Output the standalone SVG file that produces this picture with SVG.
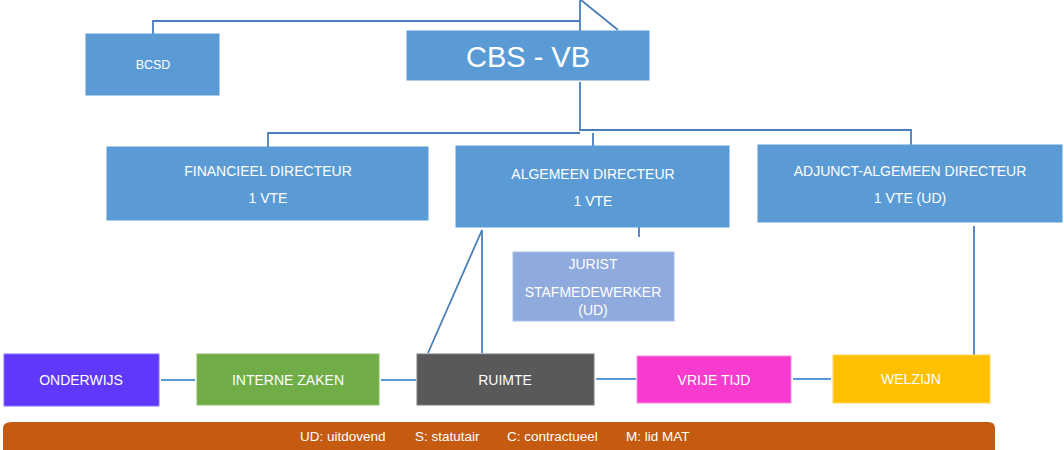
<svg xmlns="http://www.w3.org/2000/svg" width="1064" height="450" viewBox="0 0 1064 450">
<style>
.b{fill:#5B9BD5;stroke:#5B9BD5;stroke-width:1}
.t{fill:#FFFFFF;font-family:"Liberation Sans",Arial,sans-serif;font-size:14px;text-anchor:middle}
.l{fill:#FFFFFF;font-family:"Liberation Sans",Arial,sans-serif;font-size:13.5px}
.c{fill:none;stroke:#4A7EBB;stroke-width:1.8}
.h{fill:none;stroke:#5B9BD5;stroke-width:2.2}
</style>
<rect width="1064" height="450" fill="#FFFFFF"/>
<g id="connectors">
<polyline class="c" points="153,34 153,21 580,21"/>
<line class="c" x1="580" y1="0" x2="580" y2="31"/>
<line class="c" x1="581" y1="0" x2="618" y2="30"/>
<polyline class="c" points="580,82 580,130 911,130 911,146"/>
<polyline class="c" points="580,133 268,133 268,147"/>
<line class="c" x1="593" y1="133" x2="593" y2="146"/>
<line class="c" x1="639" y1="210" x2="639" y2="237"/>
<line class="c" x1="482" y1="230" x2="482" y2="353"/>
<line class="c" x1="482" y1="230" x2="428" y2="353"/>
<line class="c" x1="974" y1="226" x2="974" y2="355"/>
<line class="h" x1="161" y1="380" x2="195" y2="380"/>
<line class="h" x1="381" y1="380" x2="416" y2="380"/>
<line class="h" x1="596" y1="379" x2="636" y2="379"/>
<line class="h" x1="793" y1="379" x2="831" y2="379"/>
</g>
<g id="bcsd">
<rect class="b" x="86" y="34" width="133" height="61"/>
<text class="t" x="153" y="69" style="font-size:12.5px">BCSD</text>
</g>
<g id="cbs-vb">
<rect class="b" x="407" y="31" width="242" height="49"/>
<text class="t" x="528" y="67" style="font-size:29px">CBS - VB</text>
</g>
<g id="financieel">
<rect class="b" x="107" y="147" width="321" height="73"/>
<text class="t" x="268" y="176">FINANCIEEL DIRECTEUR</text>
<text class="t" x="268" y="203">1 VTE</text>
</g>
<g id="algemeen">
<rect class="b" x="456" y="146" width="273" height="81"/>
<text class="t" x="593" y="179">ALGEMEEN DIRECTEUR</text>
<text class="t" x="593" y="206">1 VTE</text>
</g>
<g id="adjunct">
<rect class="b" x="758" y="145" width="304" height="77"/>
<text class="t" x="910" y="176">ADJUNCT-ALGEMEEN DIRECTEUR</text>
<text class="t" x="910" y="203">1 VTE (UD)</text>
</g>
<g id="jurist">
<rect x="513" y="252" width="161" height="69" fill="#8FAADC" stroke="#A9BEE6" stroke-width="1"/>
<text class="t" x="593" y="269">JURIST</text>
<text class="t" x="593" y="297">STAFMEDEWERKER</text>
<text class="t" x="593" y="315">(UD)</text>
</g>
<g id="onderwijs">
<rect x="4" y="354" width="155" height="52" fill="#6038FB" stroke="#8A70FF" stroke-width="1"/>
<text class="t" x="81" y="385">ONDERWIJS</text>
</g>
<g id="interne-zaken">
<rect x="197" y="354" width="182" height="51" fill="#70AD47" stroke="#8CC068" stroke-width="1"/>
<text class="t" x="288" y="385">INTERNE ZAKEN</text>
</g>
<g id="ruimte">
<rect x="417" y="354" width="177" height="51" fill="#595959" stroke="#7A7A7A" stroke-width="1"/>
<text class="t" x="505" y="385">RUIMTE</text>
</g>
<g id="vrije-tijd">
<rect x="637" y="356" width="154" height="47" fill="#F73BCF" stroke="#FA8BE2" stroke-width="1"/>
<text class="t" x="714" y="385">VRIJE TIJD</text>
</g>
<g id="welzijn">
<rect x="833" y="355" width="157" height="48" fill="#FFC000" stroke="#FFD55A" stroke-width="1"/>
<text class="t" x="911" y="384">WELZIJN</text>
</g>
<g id="legend">
<path d="M3,450 L3,428 Q3,422 12,422 L988,422 Q995,422 995,428 L995,450 Z" fill="#C55A11"/>
<text class="l" x="300" y="441">UD: uitdovend</text>
<text class="l" x="415" y="441">S: statutair</text>
<text class="l" x="507" y="441">C: contractueel</text>
<text class="l" x="626" y="441">M: lid MAT</text>
</g>
</svg>
